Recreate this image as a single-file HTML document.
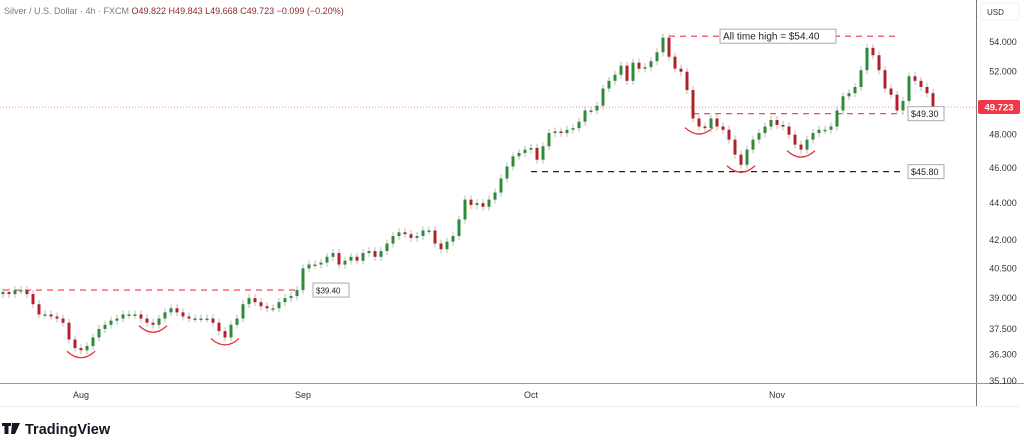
<!DOCTYPE html>
<html><head><meta charset="utf-8">
<style>
body{margin:0;width:1024px;height:448px;background:#fff;overflow:hidden;font-family:"Liberation Sans",sans-serif}
svg{position:absolute;left:0;top:0}
</style></head>
<body>
<svg id="chart" width="1024" height="448">
  <text x="4" y="14" font-size="9" fill="#787b86">Silver / U.S. Dollar · 4h · FXCM <tspan fill="#8b2a2a">O49.822  H49.843  L49.668  C49.723  −0.099 (−0.20%)</tspan></text>
  <line x1="976.5" y1="0" x2="976.5" y2="406" stroke="#777" stroke-width="1"/>
  <line x1="0" y1="383.5" x2="1024" y2="383.5" stroke="#999" stroke-width="1"/>
  <line x1="0" y1="406.5" x2="1020" y2="406.5" stroke="#eee" stroke-width="1"/>
  <rect x="981" y="3" width="38" height="17" rx="3" fill="#fff" stroke="#eee"/>
  <text x="987" y="15" font-size="8" fill="#333">USD</text>
  <g id="yticks"></g>
  <g id="xticks"></g>
  <g id="annot"></g>
  <g id="candles"></g>
  <g id="labels"></g>
  <g>
    <path d="M2 423h9v3h-2.5v8h-4v-8H2z M12 423h8l-5 11h-4z" fill="#131722"/>
    <text x="25" y="434" font-size="14.5" font-weight="bold" fill="#131722">TradingView</text>
  </g>
</svg>
<script>
const closes=[39.3,39.2,39.4,39.4,39.2,38.7,38.2,38.2,38.1,38.0,37.8,37.0,36.6,36.5,36.7,37.1,37.5,37.7,37.9,38.0,
38.2,38.2,38.2,38.0,37.8,37.7,38.0,38.3,38.5,38.3,38.1,38.0,38.0,38.0,38.0,37.8,37.4,37.1,37.7,38.0,
38.7,39.0,38.8,38.6,38.5,38.5,38.8,39.0,39.1,39.4,40.5,40.7,40.7,40.8,41.1,41.3,40.7,40.9,41.1,40.9,
41.3,41.4,41.1,41.4,41.8,42.2,42.4,42.3,42.1,42.2,42.5,42.5,41.8,41.5,41.9,42.2,43.1,44.2,43.9,44.0,
43.8,44.2,44.6,45.4,46.1,46.7,46.9,47.1,47.2,46.5,47.3,48.1,48.2,48.1,48.3,48.4,48.8,49.5,49.5,49.8,
50.9,51.4,51.8,52.4,51.4,52.6,52.2,52.3,52.7,53.3,54.3,53.0,52.2,52.0,50.8,49.0,48.5,48.4,49.0,48.5,
48.3,47.7,46.8,46.2,47.1,47.7,48.1,48.5,48.9,48.6,48.5,48.0,47.4,47.1,47.7,48.1,48.3,48.3,48.5,49.5,
50.4,50.6,51.0,52.1,53.6,53.1,52.1,50.9,50.5,49.5,50.1,51.7,51.4,51.0,50.6,49.72];
const firstOpen=39.2;
const yTicks=[54,52,48,46,44,42,40.5,39,37.5,36.3,35.1];
const yTickLabels=["54.000","52.000","48.000","46.000","44.000","42.000","40.500","39.000","37.500","36.300","35.100"];
const months=["Aug","Sep","Oct","Nov"];
const monthIndex=[13,50,88,129];
const levels=[39.40,54.40,49.30,45.80];
const levelLabels=["$39.40","All time high = $54.40","$49.30","$45.80"];
const levelStart=[0,111,115,88];
const levelEnd=[49,149,150,150];
const lastPrice=49.723;
const troughIdx=[13,25,37,116,123,133];

const NS="http://www.w3.org/2000/svg";
function yS(p){return 42+787*Math.log(54/p);}
function xS(i){return 3+6*i;}
function mk(tag,attrs,parent){const e=document.createElementNS(NS,tag);for(const k in attrs)e.setAttribute(k,attrs[k]);parent.appendChild(e);return e;}

const yt=document.getElementById('yticks');
yTicks.forEach((v,i)=>{
  const t=mk('text',{x:1003,y:yS(v)+3,'font-size':9,fill:'#333','text-anchor':'middle'},yt);
  
  
  t.textContent=yTickLabels[i];
});
const xt=document.getElementById('xticks');
months.forEach((m,i)=>{
  const t=mk('text',{x:xS(monthIndex[i]),y:398,'font-size':9,fill:'#333','text-anchor':'middle'},xt);
  
  
  t.textContent=m;
});

const an=document.getElementById('annot');
const cl=mk('line',{x1:0,x2:976,y1:yS(lastPrice),y2:yS(lastPrice),stroke:'#f23645','stroke-width':1,'stroke-dasharray':'1 2',opacity:0.6},an);


levels.forEach((v,i)=>{
  const black=(i===3);
  const l=mk('line',{x1:xS(levelStart[i]),x2:xS(levelEnd[i]),y1:yS(v),y2:yS(v),stroke:black?'#222':'#f23645','stroke-width':1.2,'stroke-dasharray':'6 5'},an);
  
  
});
troughIdx.forEach(ti=>{
  const cx=xS(ti),cy=yS(closes[ti])+6;
  const p=mk('path',{d:`M${cx-14},${cy-5} Q${cx},${cy+8} ${cx+14},${cy-5}`,fill:'none',stroke:'#e8303a','stroke-width':1.3},an);
  
  
});

const cg=document.getElementById('candles');
let prev=firstOpen;
closes.forEach((c,i)=>{
  const o=prev;prev=c;
  const up=c>=o;
  const col=up?'#2e8b3a':'#b0222b';
  const yo=yS(o),yc=yS(c),top=Math.min(yo,yc),bot=Math.max(yo,yc);
  const x=xS(i);
  const w=mk('line',{x1:x,x2:x,y1:top-4,y2:bot+4,stroke:'#bbb','stroke-width':1},cg);
  
  
  const r=mk('rect',{x:x-1.5,y:top,width:3,height:Math.max(1.5,bot-top),fill:col},cg);
  
  
});

const lg=document.getElementById('labels');
levels.forEach((v,i)=>{
  const ath=(i===1);
  const txt=levelLabels[i];
  const fs=ath?10:(i===0?8:9);
  const w=txt.length*(ath?5.0:5.0)+6;
  let x=ath?720:xS(levelEnd[i])+(i===0?16:5);
  let y=yS(v);
  const b=mk('rect',{x:x,y:y-7,width:w,height:14,fill:'#fff',stroke:'#aaa','stroke-width':1},lg);
  
  
  const t=mk('text',{x:x+3,y:y+3.5,'font-size':fs,fill:'#222'},lg);
  
  
  t.textContent=txt;
});
const pb=mk('rect',{x:978,y:yS(lastPrice)-7,width:42,height:14,rx:2,fill:'#f23645'},lg);


const pt=mk('text',{x:999,y:yS(lastPrice)+3.5,'font-size':9.5,'font-weight':'bold',fill:'#fff','text-anchor':'middle'},lg);


pt.textContent=lastPrice.toFixed(3);
</script>
</body></html>
